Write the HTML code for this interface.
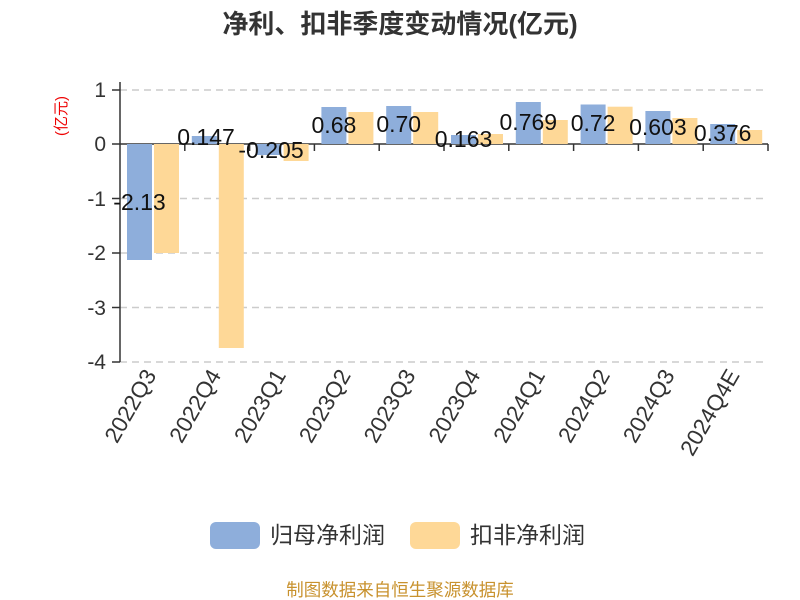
<!DOCTYPE html>
<html><head><meta charset="utf-8"><style>
body{margin:0;background:#fff;}
svg{display:block;font-family:"Liberation Sans","Noto Sans CJK SC",sans-serif;}
</style></head><body>
<svg width="800" height="600" viewBox="0 0 800 600">
<text x="400" y="33" text-anchor="middle" font-size="26" font-weight="bold" fill="#333">净利、扣非季度变动情况(亿元)</text>
<text transform="translate(66,116) rotate(-90)" text-anchor="middle" font-size="15" fill="#e00">(亿元)</text>
<g stroke="#ccc" stroke-width="1.5" stroke-dasharray="7,5">
<line x1="120" y1="90" x2="768" y2="90"/>
<line x1="120" y1="198.5" x2="768" y2="198.5"/>
<line x1="120" y1="253" x2="768" y2="253"/>
<line x1="120" y1="307.5" x2="768" y2="307.5"/>
<line x1="120" y1="362" x2="768" y2="362"/>
</g>
<g font-size="21" fill="#333" text-anchor="end">
<text x="106" y="97">1</text>
<text x="106" y="151">0</text>
<text x="106" y="206">-1</text>
<text x="106" y="260">-2</text>
<text x="106" y="315">-3</text>
<text x="106" y="369">-4</text>
</g>
<line x1="120" y1="144" x2="768" y2="144" stroke="#333" stroke-width="1.5"/>
<line x1="120" y1="82" x2="120" y2="362" stroke="#333" stroke-width="1.5"/>
<g stroke="#333" stroke-width="1.5">
<line x1="112" y1="90" x2="120" y2="90"/><line x1="112" y1="144" x2="120" y2="144"/><line x1="112" y1="198.5" x2="120" y2="198.5"/><line x1="112" y1="253" x2="120" y2="253"/><line x1="112" y1="307.5" x2="120" y2="307.5"/><line x1="112" y1="362" x2="120" y2="362"/>
<line x1="184.8" y1="144" x2="184.8" y2="151"/><line x1="249.6" y1="144" x2="249.6" y2="151"/><line x1="314.4" y1="144" x2="314.4" y2="151"/><line x1="379.2" y1="144" x2="379.2" y2="151"/><line x1="444" y1="144" x2="444" y2="151"/><line x1="508.8" y1="144" x2="508.8" y2="151"/><line x1="573.6" y1="144" x2="573.6" y2="151"/><line x1="638.4" y1="144" x2="638.4" y2="151"/><line x1="703.2" y1="144" x2="703.2" y2="151"/><line x1="768" y1="144" x2="768" y2="151"/>
</g>
<g fill="#8eaedb">
<rect x="127" y="144" width="25" height="116"/>
<rect x="191.8" y="136" width="25" height="8"/>
<rect x="256.6" y="144" width="25" height="11"/>
<rect x="321.4" y="107" width="25" height="37"/>
<rect x="386.2" y="106" width="25" height="38"/>
<rect x="451" y="135" width="25" height="9"/>
<rect x="515.8" y="102" width="25" height="42"/>
<rect x="580.6" y="104.5" width="25" height="39.5"/>
<rect x="645.4" y="111" width="25" height="33"/>
<rect x="710.2" y="124" width="25" height="20"/>
</g>
<g fill="#fed897">
<rect x="154" y="144" width="25" height="109"/>
<rect x="218.8" y="144" width="25" height="204"/>
<rect x="283.6" y="144" width="25" height="17"/>
<rect x="348.4" y="112" width="25" height="32"/>
<rect x="413.2" y="112" width="25" height="32"/>
<rect x="478" y="134" width="25" height="10"/>
<rect x="542.8" y="120" width="25" height="24"/>
<rect x="607.6" y="106.7" width="25" height="37.3"/>
<rect x="672.4" y="118" width="25" height="26"/>
<rect x="737.2" y="130" width="25" height="14"/>
</g>
<g font-size="23" fill="#111" text-anchor="middle">
<text x="139.5" y="210">-2.13</text>
<text x="206" y="145">0.147</text>
<text x="271" y="158">-0.205</text>
<text x="333.9" y="133">0.68</text>
<text x="398.7" y="132">0.70</text>
<text x="463.5" y="147">0.163</text>
<text x="528.3" y="130">0.769</text>
<text x="593.1" y="131">0.72</text>
<text x="657.9" y="135">0.603</text>
<text x="722.7" y="141">0.376</text>
</g>
<g font-size="22.5" fill="#333" text-anchor="end">
<text transform="translate(157,375) rotate(-60)">2022Q3</text>
<text transform="translate(221.8,375) rotate(-60)">2022Q4</text>
<text transform="translate(286.6,375) rotate(-60)">2023Q1</text>
<text transform="translate(351.4,375) rotate(-60)">2023Q2</text>
<text transform="translate(416.2,375) rotate(-60)">2023Q3</text>
<text transform="translate(481,375) rotate(-60)">2023Q4</text>
<text transform="translate(545.8,375) rotate(-60)">2024Q1</text>
<text transform="translate(610.6,375) rotate(-60)">2024Q2</text>
<text transform="translate(675.4,375) rotate(-60)">2024Q3</text>
<text transform="translate(740.2,375) rotate(-60)">2024Q4E</text>
</g>
<rect x="210" y="522" width="50" height="27" rx="6" fill="#8eaedb"/>
<text x="270" y="543" font-size="23" fill="#333">归母净利润</text>
<rect x="410" y="522" width="50" height="27" rx="6" fill="#fed897"/>
<text x="470" y="543" font-size="23" fill="#333">扣非净利润</text>
<text x="400" y="596" text-anchor="middle" font-size="17.5" fill="#c8922e">制图数据来自恒生聚源数据库</text>
</svg>
</body></html>
